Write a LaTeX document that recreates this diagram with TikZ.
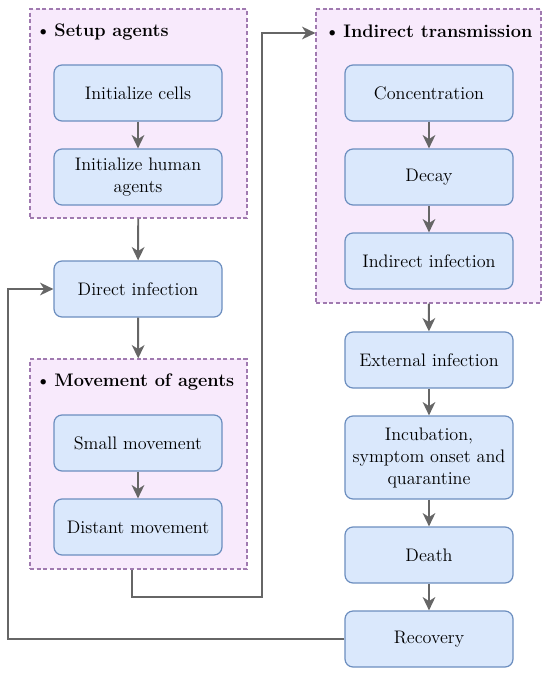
\documentclass[tikz,border=0pt]{standalone}
\usepackage{tikz}
\usetikzlibrary{arrows.meta,positioning}
\definecolor{Box}{HTML}{DAE8FC}
\definecolor{BoxLine}{HTML}{6C8EBF}
\definecolor{Panel}{HTML}{F8EAFC}
\definecolor{PanelLine}{HTML}{A07AB0}
\definecolor{Wire}{HTML}{666666}
\newcommand{\dotitem}{\textbullet\kern2.5pt}

\begin{document}
\begin{tikzpicture}[x=0.75pt,y=-0.75pt,
    task/.style={draw=BoxLine,fill=Box,rounded corners=6pt,line width=0.9pt,
      minimum width=126pt,minimum height=42pt,align=center,
      font=\fontsize{13.6}{16.5}\selectfont},
    panel/.style={draw=PanelLine,fill=Panel,dashed,dash pattern=on 3pt off 2pt,
      line width=0.9pt,inner sep=0pt},
    head/.style={anchor=west,inner sep=0pt,font=\fontsize{13.6}{17}\selectfont\bfseries},
    link/.style={draw=Wire,line width=1.4pt,-{Stealth[length=10pt,width=9.5pt,inset=3pt]}}
  ]
    \useasboundingbox (0,0) rectangle (550,674);
    % left column
    \node[panel,minimum width=162.75pt,minimum height=156.75pt] (setup) at (138.5,113.5) {};
    \node[head] (setuph) at (35,32) {\dotitem Setup agents};
    \node[task] (ic) at (138,93) {Initialize cells};
    \node[task] (ih) at (138,177) {Initialize human\\agents};
    \node[task] (di) at (138,289) {Direct infection};
    \node[panel,minimum width=162.75pt,minimum height=157.5pt] (move) at (138.5,464) {};
    \node[head] (moveh) at (35,382) {\dotitem Movement of agents};
    \node[task] (sm) at (138,443) {Small movement};
    \node[task] (dm) at (138,527) {Distant movement};
    % right column
    \node[panel,minimum width=168.75pt,minimum height=220.5pt] (indtr) at (428.5,156) {};
    \node[head] (indtrh) at (324,31) {\dotitem Indirect transmission};
    \node[task] (co) at (429,93) {Concentration};
    \node[task] (de) at (429,177) {Decay};
    \node[task] (ii) at (429,261) {Indirect infection};
    \node[task] (ex) at (429,360) {External infection};
    \node[task,minimum height=62.25pt] (inc) at (429,457.5) {Incubation,\\symptom onset and\\quarantine};
    \node[task] (dt) at (429,555) {Death};
    \node[task] (rc) at (429,639) {Recovery};

    \foreach \a/\b in {ic/ih,sm/dm,co/de,de/ii,setup/di,di/move,indtr/ex,ex/inc,inc/dt,dt/rc}
      \draw[link] (\a) -- (\b);

    % loops
    \coordinate (jog) at (262,597);
    \coordinate (rise) at (262,33);
    \draw[link] ([xshift=-5pt]move.south) |- (jog) -- (rise) -- (rise -| indtr.west);
    \coordinate (back) at (8,289);
    \draw[link] (rc.west) -| (back) -- (di.west);
  \end{tikzpicture}
\end{document}
